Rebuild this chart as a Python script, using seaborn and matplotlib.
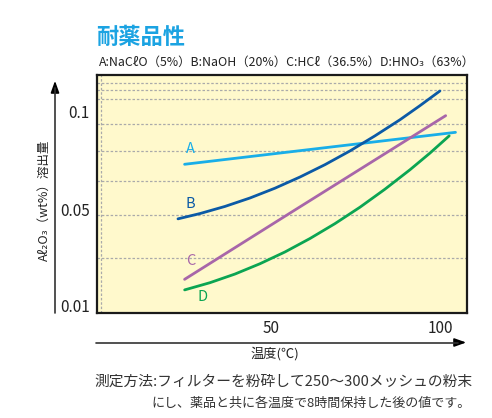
import numpy as np
import pandas as pd
import matplotlib.pyplot as plt
import seaborn as sns

# --- Data ---
temp_a = [24.6, 104.6]
val_a = [0.0733, 0.0896]

temp_b = [22.65, 29.14, 36.52, 43.90, 51.28, 58.67, 66.05, 73.43, 80.81, 88.19, 94.10, 100.0]
val_b = [0.0463, 0.0485, 0.0518, 0.0561, 0.0611, 0.0668, 0.0731, 0.0801, 0.0878,
         0.0960, 0.1032, 0.1107]

temp_c = [24.6, 57.2, 101.7]
val_c = [0.0211, 0.0500, 0.0981]

temp_d = [24.62, 32.09, 39.47, 46.86, 54.24, 61.62, 69.00, 76.39, 83.77, 91.15, 97.05, 102.74]
val_d = [0.0167, 0.0197, 0.0233, 0.0276, 0.0325, 0.0381, 0.0443, 0.0514, 0.0606,
         0.0705, 0.0790, 0.0878]

series_names = ["A", "B", "C", "D"]
y_ticks = [0.01, 0.05, 0.1]
y_tick_labels = ["0.01", "0.05", "0.1"]
x_ticks = [50, 100]
x_grid = [0, 50, 100]
y_grid = [0.01, 0.03, 0.048, 0.065, 0.08, 0.094, 0.1, 0.1065, 0.111, 0.1148]

# chart's own (non-uniform) vertical scale: equal spacing between 0.01, 0.05, 0.1
scale_vals = [0.0, 0.01, 0.05, 0.1, 0.2]
scale_pos = [-24.0, 0.0, 96.0, 194.0, 390.0]

colors = {"A": "#19aee8", "B": "#0b5aa6", "C": "#a866a9", "D": "#0ba552"}

df = pd.concat([
    pd.DataFrame({"temp": temp_a, "val": val_a, "series": "A"}),
    pd.DataFrame({"temp": temp_b, "val": val_b, "series": "B"}),
    pd.DataFrame({"temp": temp_c, "val": val_c, "series": "C"}),
    pd.DataFrame({"temp": temp_d, "val": val_d, "series": "D"}),
])

sns.set_style("white")
plt.rcParams['font.family'] = ['Noto Sans CJK JP', 'DejaVu Sans']

fig = plt.figure(figsize=(4.92, 4.18), dpi=100)
ax = fig.add_axes([0.1965, 0.2519, 0.752, 0.5694])
ax.set_facecolor("#fff9cc")


def fwd(v):
    return np.interp(v, scale_vals, scale_pos)


def inv(p):
    return np.interp(p, scale_pos, scale_vals)


ax.set_yscale("function", functions=(fwd, inv))

for name in series_names:
    sns.lineplot(data=df[df["series"] == name], x="temp", y="val",
                 color=colors[name], linewidth=2.0, sort=False,
                 estimator=None, ax=ax, legend=False)

ax.set_xlim(-1.36, 107.9)
ax.set_ylim(0.0072, 0.119)

ax.set_xticks(x_ticks)
ax.set_xticks(x_grid, minor=True)
ax.set_yticks(y_ticks)
ax.set_yticklabels(y_tick_labels)
ax.set_yticks(y_grid, minor=True)
ax.tick_params(which="both", length=0, labelsize=11, colors="#222222")
ax.tick_params(axis="x", pad=5)
ax.tick_params(axis="y", pad=5)
ax.grid(False)
ax.grid(which="minor", color="#aaaaaa", linestyle=(0, (2, 1.5)), linewidth=0.9)
ax.set_xlabel("")
ax.set_ylabel("")
for s in ax.spines.values():
    s.set_color("#1a1a1a")
    s.set_linewidth(1.6)

# curve labels
label_pos = {"A": (26.4, 0.0811), "B": (26.4, 0.0531), "C": (26.4, 0.0288), "D": (29.8, 0.0139)}
for name, (lx, ly) in label_pos.items():
    ax.text(lx, ly, name, color=colors[name], fontsize=10.5, ha="center", va="center")

# titles
fig.text(96 / 492, 1 - 37 / 418, "耐薬品性", color="#1ba3e2", fontsize=16,
         fontweight="bold", ha="left", va="center")
fig.text(99 / 492, 1 - 62.5 / 418,
         "A:NaCℓO（5%）B:NaOH（20%）C:HCℓ（36.5%）D:HNO₃（63%）",
         fontsize=8.9, color="#222222", ha="left", va="center")

# axis arrows
fig.add_artist(plt.Line2D([55 / 492, 55 / 492], [1 - 313 / 418, 1 - 88 / 418],
                          transform=fig.transFigure, color="#333333", lw=1.2))
ax.annotate("", xy=(55 / 492, 1 - 78 / 418), xytext=(55 / 492, 1 - 90 / 418),
            xycoords="figure fraction", textcoords="figure fraction",
            arrowprops=dict(arrowstyle="-|>,head_width=0.25,head_length=0.7",
                            color="black", lw=1.2))
fig.add_artist(plt.Line2D([96 / 492, 458 / 492], [1 - 342.5 / 418, 1 - 342.5 / 418],
                          transform=fig.transFigure, color="#333333", lw=1.2))
ax.annotate("", xy=(469 / 492, 1 - 342.5 / 418), xytext=(456 / 492, 1 - 342.5 / 418),
            xycoords="figure fraction", textcoords="figure fraction",
            arrowprops=dict(arrowstyle="-|>,head_width=0.25,head_length=0.7",
                            color="black", lw=1.2))

fig.text(44.7 / 492, 1 - 200 / 418, "Aℓ₂O₃（wt%）溶出量", rotation=90,
         fontsize=9, color="#222222", ha="center", va="center")
fig.text(275 / 492, 1 - 353.5 / 418, "温度(℃)", fontsize=9.5,
         color="#222222", ha="center", va="center")

fig.text(94 / 492, 1 - 381.5 / 418,
         "測定方法:フィルターを粉砕して250〜300メッシュの粉末",
         fontsize=10.6, color="#333333", ha="left", va="center")
fig.text(471 / 492, 1 - 403 / 418,
         "にし、薬品と共に各温度で8時間保持した後の値です。",
         fontsize=9.4, color="#333333", ha="right", va="center")

fig.savefig("out.png", dpi=100)
